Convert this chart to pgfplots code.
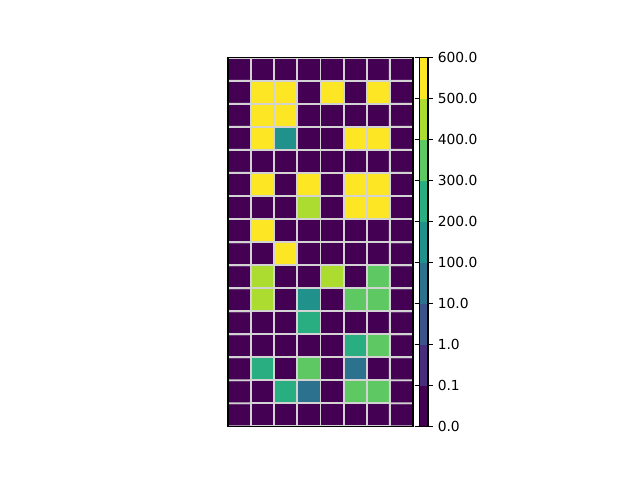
\documentclass[border=0pt]{standalone}
\usepackage{fontspec}
\setmainfont{DejaVu Sans}
\usepackage{pgfplots}
\pgfplotsset{compat=1.18}
\definecolor{gridgray}{RGB}{211,211,211}

% band index per cell: 0 = [0,0.1) ... 8 = [500,600]
% rows listed from bottom (y=0) to top (y=15)
\pgfplotstableread{
x y c
0 0 0
1 0 0
2 0 0
3 0 0
4 0 0
5 0 0
6 0 0
7 0 0
0 1 0
1 1 0
2 1 5
3 1 3
4 1 0
5 1 6
6 1 6
7 1 0
0 2 0
1 2 5
2 2 0
3 2 6
4 2 0
5 2 3
6 2 0
7 2 0
0 3 0
1 3 0
2 3 0
3 3 0
4 3 0
5 3 5
6 3 6
7 3 0
0 4 0
1 4 0
2 4 0
3 4 5
4 4 0
5 4 0
6 4 0
7 4 0
0 5 0
1 5 7
2 5 0
3 5 4
4 5 0
5 5 6
6 5 6
7 5 0
0 6 0
1 6 7
2 6 0
3 6 0
4 6 7
5 6 0
6 6 6
7 6 0
0 7 0
1 7 0
2 7 8
3 7 0
4 7 0
5 7 0
6 7 0
7 7 0
0 8 0
1 8 8
2 8 0
3 8 0
4 8 0
5 8 0
6 8 0
7 8 0
0 9 0
1 9 0
2 9 0
3 9 7
4 9 0
5 9 8
6 9 8
7 9 0
0 10 0
1 10 8
2 10 0
3 10 8
4 10 0
5 10 8
6 10 8
7 10 0
0 11 0
1 11 0
2 11 0
3 11 0
4 11 0
5 11 0
6 11 0
7 11 0
0 12 0
1 12 8
2 12 4
3 12 0
4 12 0
5 12 8
6 12 8
7 12 0
0 13 0
1 13 8
2 13 8
3 13 0
4 13 0
5 13 0
6 13 0
7 13 0
0 14 0
1 14 8
2 14 8
3 14 0
4 14 8
5 14 0
6 14 8
7 14 0
0 15 0
1 15 0
2 15 0
3 15 0
4 15 0
5 15 0
6 15 0
7 15 0
}\cells

\begin{document}
\begin{tikzpicture}
\path (0,0) rectangle (6.4in,4.8in);
\begin{axis}[
  at={(2.28in,0.537in)}, anchor=south west,
  scale only axis,
  width=1.85in, height=3.685in,
  xmin=-0.5, xmax=7.5, ymin=-0.5, ymax=15.5,
  xtick=\empty, ytick=\empty,
  axis on top,
  axis line style={black, line width=0.8pt},
  colormap={vir9}{
    rgb255=(68,1,84) rgb255=(71,45,123) rgb255=(59,82,139)
    rgb255=(44,114,142) rgb255=(33,145,140) rgb255=(40,174,128)
    rgb255=(94,201,98) rgb255=(173,220,48) rgb255=(253,231,37)},
  colormap access=piecewise constant,
  point meta min=0, point meta max=9,
  colorbar,
  colorbar style={
    at={(parent axis.north east)}, anchor=north west,
    xshift=-0.053in,
    scale only axis,
    width=0.085in, height=3.685in,
    ytick={0,1,2,3,4,5,6,7,8,9},
    yticklabels={0.0,0.1,1.0,10.0,100.0,200.0,300.0,400.0,500.0,600.0},
    yticklabel style={font=\fontsize{10}{12}\selectfont},
    tick align=outside,
    major tick length=0.049in,
    tick style={black, line width=0.8pt},
    axis line style={black, line width=0.8pt},
  },
]
\addplot[matrix plot*, mesh/cols=8, shader=faceted, faceted color=gridgray,
  line width=1.4pt, point meta={\thisrow{c}+0.5}] table[x=x, y=y] {\cells};
\end{axis}
\end{tikzpicture}
\end{document}
